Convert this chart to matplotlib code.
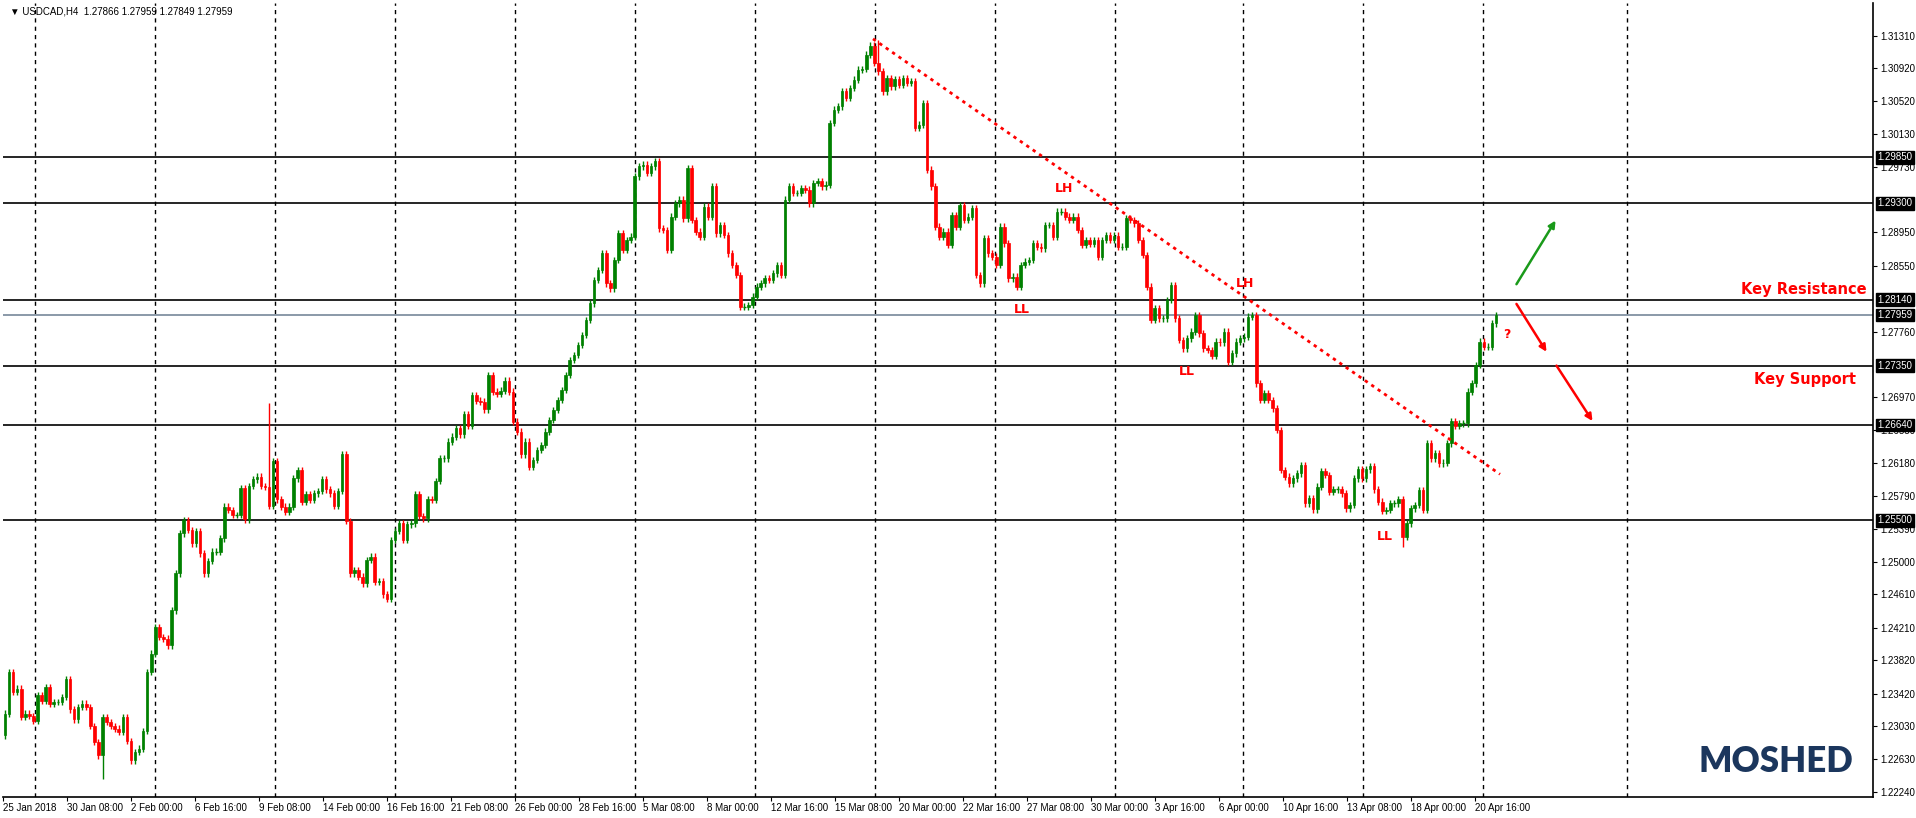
import matplotlib
matplotlib.use("Agg")
import matplotlib.pyplot as plt
import numpy as np

# ---- data ----
first_open = 1.2292
closes = [
    1.2318, 1.2368, 1.2344, 1.2348, 1.2314, 1.2318, 1.2315, 1.2309, 1.2340, 1.2333,
    1.2350, 1.2330, 1.2332, 1.2332, 1.2338, 1.2359, 1.2323, 1.2311, 1.2326, 1.2330,
    1.2326, 1.2303, 1.2284, 1.2268, 1.2314, 1.2308, 1.2303, 1.2300, 1.2296, 1.2314,
    1.2285, 1.2262, 1.2272, 1.2276, 1.2297, 1.2368, 1.2390, 1.2422, 1.2410, 1.2408,
    1.2400, 1.2442, 1.2486,
    1.2534, 1.2550, 1.2538, 1.2522, 1.2537, 1.2510, 1.2486, 1.2501, 1.2512, 1.2512,
    1.2528, 1.2566, 1.2562, 1.2556, 1.2556, 1.2588, 1.2551, 1.2591, 1.2599, 1.2602,
    1.2591, 1.2590, 1.2567, 1.2621, 1.2575, 1.2566, 1.2560, 1.2566, 1.2600, 1.2610,
    1.2572, 1.2581, 1.2574, 1.2582, 1.2585, 1.2599, 1.2587, 1.2582, 1.2567, 1.2585,
    1.2629, 1.2549, 1.2486, 1.2490, 1.2482, 1.2474, 1.2502, 1.2506, 1.2476, 1.2477,
    1.2461, 1.2456, 1.2526, 1.2537, 1.2546, 1.2526, 1.2545, 1.2546, 1.2581, 1.2555,
    1.2552, 1.2575, 1.2574, 1.2597, 1.2624, 1.2624, 1.2644, 1.2650, 1.2660, 1.2653,
    1.2677, 1.2663, 1.2700, 1.2693, 1.2692, 1.2683, 1.2724, 1.2704, 1.2701, 1.2705,
    1.2717, 1.2704, 1.2668, 1.2656, 1.2629, 1.2644, 1.2614,
    1.2622, 1.2634, 1.2640, 1.2656, 1.2670, 1.2682, 1.2694, 1.2706, 1.2724, 1.2742,
    1.2748, 1.2760, 1.2772, 1.2790,
    1.2810, 1.2838, 1.2850, 1.2870, 1.2834, 1.2828, 1.2862, 1.2894, 1.2874, 1.2886,
    1.2890, 1.2962, 1.2974, 1.2976, 1.2966, 1.2974, 1.2980, 1.2900, 1.2898, 1.2874,
    1.2914, 1.2930, 1.2934, 1.2912, 1.2972, 1.2910, 1.2896, 1.2890, 1.2926, 1.2914,
    1.2950, 1.2894, 1.2904, 1.2892, 1.2870, 1.2856, 1.2844, 1.2806, 1.2806, 1.2808,
    1.2818, 1.2830, 1.2834, 1.2840, 1.2838, 1.2846, 1.2856, 1.2844, 1.2934, 1.2950,
    1.2942, 1.2942, 1.2948, 1.2946, 1.2930, 1.2954, 1.2956, 1.2950, 1.2952, 1.3026,
    1.3042, 1.3046, 1.3064, 1.3056, 1.3068, 1.3078, 1.3090, 1.3091, 1.3108, 1.3119,
    1.3098, 1.3088, 1.3064, 1.3080, 1.3070, 1.3079, 1.3072, 1.3080, 1.3074, 1.3076,
    1.3020, 1.3024, 1.3050, 1.2970, 1.2950, 1.2902, 1.2890, 1.2896, 1.2880, 1.2916,
    1.2902, 1.2928, 1.2910, 1.2914, 1.2924, 1.2844, 1.2834, 1.2888, 1.2870, 1.2866,
    1.2856, 1.2902, 1.2882, 1.2840,
    1.2842, 1.2830, 1.2856, 1.2860, 1.2862, 1.2882, 1.2878, 1.2876, 1.2904, 1.2904,
    1.2890, 1.2920, 1.2920, 1.2914, 1.2910, 1.2914, 1.2898, 1.2880, 1.2886, 1.2881,
    1.2886, 1.2866, 1.2886, 1.2892, 1.2886, 1.2891, 1.2878, 1.2878, 1.2912, 1.2910,
    1.2906, 1.2886, 1.2868, 1.2830, 1.2790, 1.2804, 1.2792, 1.2792, 1.2814, 1.2832,
    1.2792, 1.2766, 1.2756, 1.2768, 1.2776, 1.2796, 1.2774, 1.2756, 1.2754, 1.2747,
    1.2764, 1.2763, 1.2776, 1.2740, 1.2750, 1.2764, 1.2768, 1.2770, 1.2794, 1.2796,
    1.2714, 1.2694, 1.2702, 1.2694, 1.2684, 1.2658, 1.2610,
    1.2602, 1.2594, 1.2600, 1.2606, 1.2616, 1.2570, 1.2576, 1.2563, 1.2590, 1.2609,
    1.2604, 1.2584, 1.2587, 1.2587, 1.2582, 1.2564, 1.2568, 1.2600, 1.2611, 1.2600,
    1.2611, 1.2615, 1.2587, 1.2572, 1.2561, 1.2562, 1.2570, 1.2570, 1.2575, 1.2530,
    1.2546, 1.2564, 1.2568, 1.2586, 1.2562, 1.2642, 1.2624, 1.2630, 1.2618, 1.2619,
    1.2642, 1.2669,
    1.2663, 1.2666, 1.2666, 1.2704, 1.2714, 1.2736, 1.2764, 1.2758, 1.2758, 1.2786,
    1.27959,
]
# long wicks that stand out (bar index -> extreme price)
spike_highs = {65: 1.2690, 215: 1.3126}
spike_lows = {24: 1.2240, 344: 1.2518}

date_labels = ["25 Jan 2018", "30 Jan 08:00", "2 Feb 00:00", "6 Feb 16:00", "9 Feb 08:00",
               "14 Feb 00:00", "16 Feb 16:00", "21 Feb 08:00", "26 Feb 00:00", "28 Feb 16:00",
               "5 Mar 08:00", "8 Mar 00:00", "12 Mar 16:00", "15 Mar 08:00", "20 Mar 00:00",
               "22 Mar 16:00", "27 Mar 08:00", "30 Mar 00:00", "3 Apr 16:00", "6 Apr 00:00",
               "10 Apr 16:00", "13 Apr 08:00", "18 Apr 00:00", "20 Apr 16:00"]
price_ticks = [1.31310, 1.30920, 1.30520, 1.30130, 1.29730, 1.28950, 1.28550, 1.27760,
               1.26970, 1.26580, 1.26180, 1.25790, 1.25390, 1.25000, 1.24610, 1.24210,
               1.23820, 1.23420, 1.23030, 1.22630, 1.22240]
levels = [1.29850, 1.29300, 1.28140, 1.27350, 1.26640, 1.25500]
last_price = 1.27959

# ---- layout helpers (pixel geometry of the 1916x818 canvas) ----
W, H = 1916, 818
n = len(closes)
step = (1496 - 5) / (n - 1)          # px per bar


def bx(px):
    return (px - 5) / step


GREEN = "#008000"
RED = "#ff0000"
AXFONT = "Liberation Sans"

fig = plt.figure(figsize=(W / 100, H / 100), dpi=100)
ax = fig.add_axes([3 / W, 1 - 797 / H, 1870 / W, 794 / H])
ax.set_xlim(bx(3), bx(1873))
ax.set_ylim(1.2218, 1.3170)

# vertical dashed grid
for px in [35, 155, 275, 395, 515, 635, 755, 875, 995, 1115, 1243, 1363, 1483, 1627]:
    ax.axvline(bx(px), color="black", ls=(0, (3, 3)), lw=1, zorder=1)

# horizontal levels
for lv in levels:
    ax.axhline(lv, color="black", lw=1.2, zorder=2)
ax.axhline(last_price, color="#778899", lw=1.2, zorder=2)

# candles
opens = [first_open] + closes[:-1]
body_w = 0.62
for i, (o, c) in enumerate(zip(opens, closes)):
    col = GREEN if c >= o else RED
    hi = spike_highs.get(i, max(o, c) + 0.0004)
    lo = spike_lows.get(i, min(o, c) - 0.0004)
    ax.vlines(i, lo, hi, color=col, lw=1, zorder=3)
    h = abs(c - o)
    if h < 0.00005:
        ax.hlines(c, i - body_w / 2, i + body_w / 2, color=col, lw=1, zorder=4)
    else:
        ax.add_patch(plt.Rectangle((i - body_w / 2, min(o, c)), body_w, h,
                                   facecolor=col, edgecolor=col, lw=0.5, zorder=4))

# trend line and annotations
ax.plot([bx(873), bx(1500)], [1.3127, 1.2605], color=RED, lw=2, ls=(0, (1.2, 1.6)), zorder=5)
for txt, px, py in [("LH", 1064, 1.2947), ("LL", 1022, 1.2802), ("LL", 1187, 1.2728),
                    ("LH", 1245, 1.2834), ("LL", 1385, 1.2530)]:
    ax.text(bx(px), py, txt, color=RED, fontsize=9, fontweight="bold",
            ha="center", va="center", zorder=6)
ax.text(bx(1507), 1.2772, "?", color=RED, fontsize=9, fontweight="bold",
        ha="center", va="center")
arrow_kw = dict(arrowstyle="-|>", lw=1.8, mutation_scale=10)
ax.annotate("", xy=(bx(1557), 1.2912), xytext=(bx(1515), 1.2830),
            arrowprops=dict(color="#1a9a1a", **arrow_kw))
ax.annotate("", xy=(bx(1548), 1.2749), xytext=(bx(1515), 1.2812),
            arrowprops=dict(color=RED, **arrow_kw))
ax.annotate("", xy=(bx(1594), 1.2666), xytext=(bx(1555), 1.2738),
            arrowprops=dict(color=RED, **arrow_kw))
ax.text(bx(1867), 1.2826, "Key Resistance", color=RED, fontsize=10.5, fontweight="bold",
        ha="right", va="center")
ax.text(bx(1856), 1.2718, "Key Support", color=RED, fontsize=10.5, fontweight="bold",
        ha="right", va="center")

# header and watermark
ax.text(0.004, 0.995, "\u25bc USDCAD,H4  1.27866 1.27959 1.27849 1.27959",
        transform=ax.transAxes, fontsize=7, family=[AXFONT, "DejaVu Sans"],
        ha="left", va="top", color="black")
ax.text(bx(1776), 1.2260, "MOSHED", color="#1b365d", fontsize=25, fontweight="heavy",
        family="Lato", ha="center", va="center")

# axes styling
for s in ["top", "left"]:
    ax.spines[s].set_visible(False)
ax.spines["right"].set_linewidth(1.2)
ax.spines["bottom"].set_linewidth(1.2)
ax.yaxis.tick_right()
ax.set_yticks(price_ticks)
ax.set_yticklabels([f"{p:.5f}" for p in price_ticks], family=AXFONT)
ax.tick_params(axis="y", direction="out", length=3, labelsize=7, pad=2)
tick_px = [3 + 64 * k for k in range(len(date_labels))]
ax.set_xticks([bx(p) for p in tick_px])
ax.set_xticklabels(date_labels, ha="left", family=AXFONT)
ax.tick_params(axis="x", direction="out", length=3, labelsize=7, pad=1)

for lv in levels + [last_price]:
    ax.text(1.0025, lv, f"{lv:.5f}", transform=ax.get_yaxis_transform(),
            fontsize=7, family=AXFONT, color="white", ha="left", va="center", zorder=10,
            bbox=dict(boxstyle="square,pad=0.15", facecolor="black", edgecolor="black"))

fig.savefig("out.png", dpi=100, facecolor="white")
